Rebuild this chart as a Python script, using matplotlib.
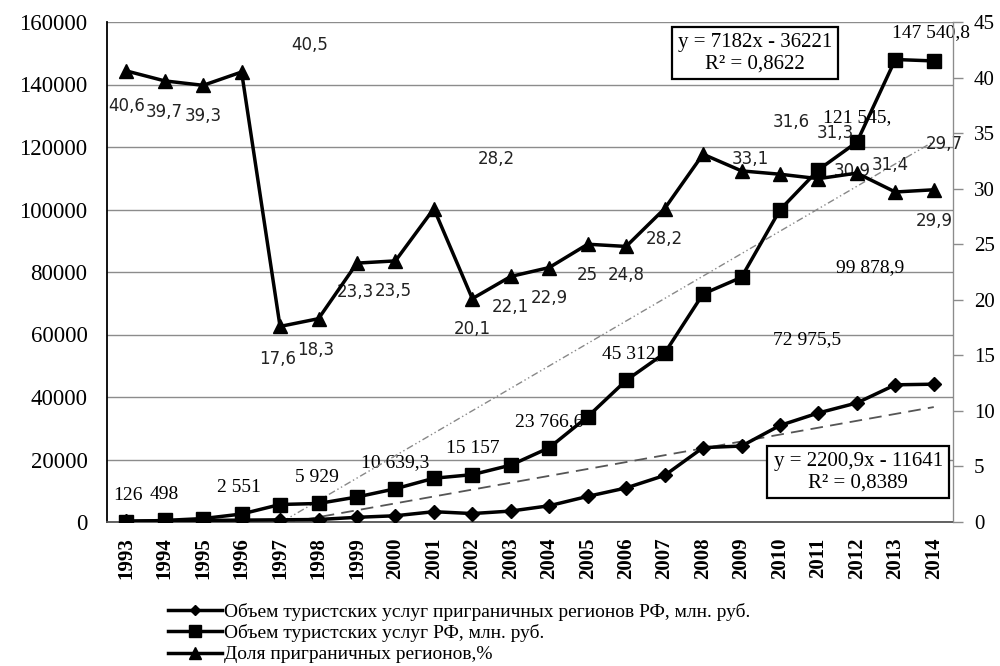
import numpy as np
import matplotlib
matplotlib.use('Agg')
import matplotlib.pyplot as plt

# Data
years = [str(y) for y in range(1993, 2015)]
border_volume = [300, 400, 500, 600, 700, 800, 1500, 2000, 3300, 2700, 3500, 5200,
                 8200, 10900, 14900, 23800, 24300, 30900, 34900, 38100, 43900, 44100]
rf_volume = [126, 498, 1100, 2551, 5600, 5929, 8000, 10639.3, 14000, 15157, 18200, 23766.6,
             33700, 45312, 54000, 72975.5, 78300, 99878.9, 112700, 121545, 148000, 147540.8]
border_share = [40.6, 39.7, 39.3, 40.5, 17.6, 18.3, 23.3, 23.5, 28.2, 20.1, 22.1, 22.9,
                25, 24.8, 28.2, 33.1, 31.6, 31.3, 30.9, 31.4, 29.7, 29.9]
share_labels = ['40,6', '39,7', '39,3', '40,5', '17,6', '18,3', '23,3', '23,5', '28,2', '20,1',
                '22,1', '22,9', '25', '24,8', '28,2', '33,1', '31,6', '31,3', '30,9', '31,4',
                '29,7', '29,9']
rf_labels = ['126', '498', None, '2 551', None, '5 929', None, '10 639,3', None, '15 157', None,
             '23 766,6', None, '45 312,', None, '72 975,5', None, '99 878,9', None, '121 545,',
             None, '147 540,8']

# trend line equations shown on the chart (x = 1..22)
trend_border = (2200.9, -11641)
trend_rf = (7182, -36221)

legend_labels = ['Объем туристских услуг приграничных регионов РФ, млн. руб.',
                 'Объем туристских услуг РФ, млн. руб.',
                 'Доля приграничных регионов,%']

serif = 'Liberation Serif'
plt.rcParams['font.family'] = serif

fig = plt.figure(figsize=(10, 6.66), dpi=100)
ax = fig.add_axes([0.107, 1 - 522 / 666, 0.846, 500 / 666])
ax2 = ax.twinx()

x = np.arange(len(years))
xn = x + 1

# trend lines
ax.plot(x, trend_border[0] * xn + trend_border[1], color='#555555', lw=1.3,
        dashes=(7, 4), zorder=2)
ax.plot(x, trend_rf[0] * xn + trend_rf[1], color='#888888', lw=1.0,
        dashes=(5, 2, 1, 2, 1, 2), zorder=2)

l1, = ax.plot(x, border_volume, color='black', lw=2.5, marker='D', markersize=7, zorder=3)
l2, = ax.plot(x, rf_volume, color='black', lw=2.5, marker='s', markersize=10, zorder=4)
l3, = ax2.plot(x, border_share, color='black', lw=2.5, marker='^', markersize=10, zorder=3)

ax.set_xlim(-0.5, len(years) - 0.5)
ax.set_ylim(0, 160000)
ax2.set_ylim(0, 45)
ax.set_yticks(np.arange(0, 160001, 20000))
ax2.set_yticks(np.arange(0, 46, 5))
ax.set_xticks(x)
ax.set_xticklabels(years, rotation=90, fontweight='bold', fontsize=15)
ax.yaxis.grid(True, color='#8c8c8c', lw=1)
ax.set_axisbelow(True)

ax.tick_params(axis='y', length=0, pad=14, labelsize=16.5)
ax.tick_params(axis='x', length=0, pad=11)
ax2.tick_params(axis='y', length=7, width=1, color='#8c8c8c', pad=8, labelsize=15)

for side in ['top']:
    ax.spines[side].set_visible(False)
    ax2.spines[side].set_visible(False)
ax.spines['left'].set_color('black')
ax.spines['left'].set_linewidth(1.3)
ax.spines['bottom'].set_color('#555555')
ax.spines['bottom'].set_linewidth(1.3)
ax2.spines['right'].set_color('#8c8c8c')
ax2.spines['left'].set_visible(False)
ax2.spines['bottom'].set_visible(False)

# data label offsets in pixels (dx, dy up)
share_off = [(0, -35), (0, -31), (0, -31), (68, 27), (-2, -33), (-3, -31), (-2, -29), (-2, -30),
             (62, 50), (0, -30), (0, -31), (0, -30), (0, -31), (0, -29), (0, -30), (47, -5),
             (50, 49), (55, 41), (34, 8), (33, 8), (49, 48), (0, -31)]
rf_off = {0: (2, 26), 1: (0, 26), 3: (-3, 27), 5: (-2, 26), 7: (0, 26), 9: (0, 26),
          11: (0, 26), 13: (5, 27), 15: (104, -46), 17: (90, -58), 19: (0, 25), 21: (-3, 28)}

for i, (v, t) in enumerate(zip(border_share, share_labels)):
    dx, dy = share_off[i]
    ax2.annotate(t, (x[i], v), xytext=(dx * 0.72, dy * 0.72), textcoords='offset points',
                 ha='center', va='center', fontsize=12, family='DejaVu Sans',
                 color='#222222', zorder=1)

for i, t in enumerate(rf_labels):
    if t is None:
        continue
    dx, dy = rf_off[i]
    ax.annotate(t, (x[i], rf_volume[i]), xytext=(dx * 0.72, dy * 0.72),
                textcoords='offset points', ha='center', va='center', fontsize=14,
                color='black', zorder=1)

box = dict(boxstyle='square,pad=0.3', fc='white', ec='black', lw=1.6)
ax2.text(0.766, 0.938, 'y = 7182x - 36221\nR² = 0,8622', transform=ax.transAxes,
         ha='center', va='center', fontsize=15, bbox=box, linespacing=1.15, zorder=6)
ax2.text(0.888, 0.1, 'y = 2200,9x - 11641\nR² = 0,8389', transform=ax.transAxes,
         ha='center', va='center', fontsize=15, bbox=box, linespacing=1.15, zorder=6)

fig.legend([l1, l2, l3], legend_labels, loc='upper left', bbox_to_anchor=(0.168, 0.095),
           frameon=False, fontsize=14, handlelength=2.8, handletextpad=0.1,
           labelspacing=0.18, borderpad=0, borderaxespad=0, markerscale=0.8)

fig.savefig('out.png', dpi=100)
